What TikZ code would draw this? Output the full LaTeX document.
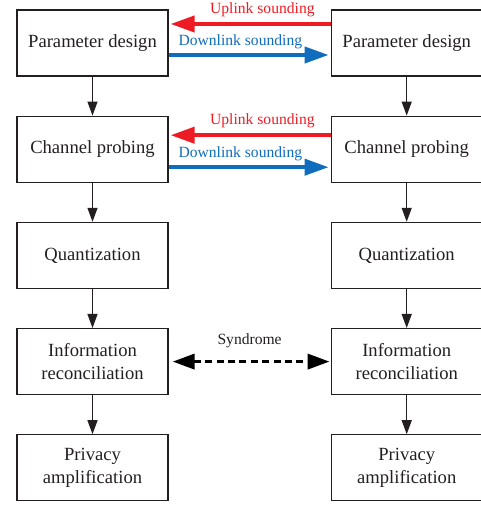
\documentclass[tikz,border=0pt]{standalone}
\usepackage{fontspec}
\setmainfont{Liberation Serif}
\usepackage{xcolor}
\usepackage{tikz}
\usetikzlibrary{arrows.meta,positioning}
\definecolor{upred}{RGB}{237,28,36}
\definecolor{downblue}{RGB}{16,108,188}
\definecolor{boxtext}{RGB}{35,31,32}

\begin{document}
\begin{tikzpicture}[
    box/.style={rectangle, draw=boxtext, line width=0.6pt, minimum width=75.5pt, minimum height=33pt, align=center, text=boxtext, font=\fontsize{9.3}{11.5}\selectfont},
    arrow/.style={-{Triangle[length=7pt,width=5pt]}, line width=0.6pt, draw=boxtext},
    uplink/.style={-{Triangle[length=12pt,width=8pt]}, line width=2pt, draw=upred, shorten >=1pt},
    downlink/.style={-{Triangle[length=12pt,width=8pt]}, line width=2pt, draw=downblue, shorten >=1pt},
    syndrome/.style={{Triangle[length=11pt,width=7.5pt]}-{Triangle[length=11pt,width=7.5pt]}, line width=1.8pt, dash pattern=on 3.5pt off 2.2pt, shorten <=2pt, shorten >=0.5pt},
    lbl/.style={inner sep=1pt, font=\fontsize{7.8}{9}\selectfont}
]
    \useasboundingbox (0,0) rectangle (240pt,-253pt);

    % left column
    \node[box] (paramA) at (46.25pt,-21.5pt) {Parameter design};
    \node[box, below=19.5pt of paramA] (probeA) {Channel probing};
    \node[box, below=19.5pt of probeA] (quantA) {Quantization};
    \node[box, below=19.5pt of quantA] (reconA) {Information\\reconciliation};
    \node[box, below=19.5pt of reconA] (privA) {Privacy\\amplification};

    % right column
    \node[box, right=81pt of paramA] (paramB) {Parameter design};
    \node[box, right=81pt of probeA] (probeB) {Channel probing};
    \node[box, right=81pt of quantA] (quantB) {Quantization};
    \node[box, right=81pt of reconA] (reconB) {Information\\reconciliation};
    \node[box, right=81pt of privA] (privB) {Privacy\\amplification};

    \foreach \col in {A,B} {
        \draw[arrow] (param\col) -- (probe\col);
        \draw[arrow] (probe\col) -- (quant\col);
        \draw[arrow] (quant\col) -- (recon\col);
        \draw[arrow] (recon\col) -- (priv\col);
    }

    % sounding between the two sides
    \foreach \row/\up/\down in {param/9.5pt/-6pt, probe/7pt/-9pt} {
        \draw[uplink] ([yshift=\up]\row B.west) -- ([yshift=\up]\row A.east)
            node[lbl, pos=0, anchor=south east, xshift=-6pt, yshift=1.5pt, text=upred] {Uplink sounding};
        \draw[downlink] ([yshift=\down]\row A.east) -- ([yshift=\down]\row B.west)
            node[lbl, pos=0, anchor=south west, xshift=3pt, yshift=1pt, text=downblue] {Downlink sounding};
    }

    \draw[syndrome] (reconA) -- (reconB)
        node[lbl, midway, above=5pt, text=boxtext] {Syndrome};
\end{tikzpicture}
\end{document}
